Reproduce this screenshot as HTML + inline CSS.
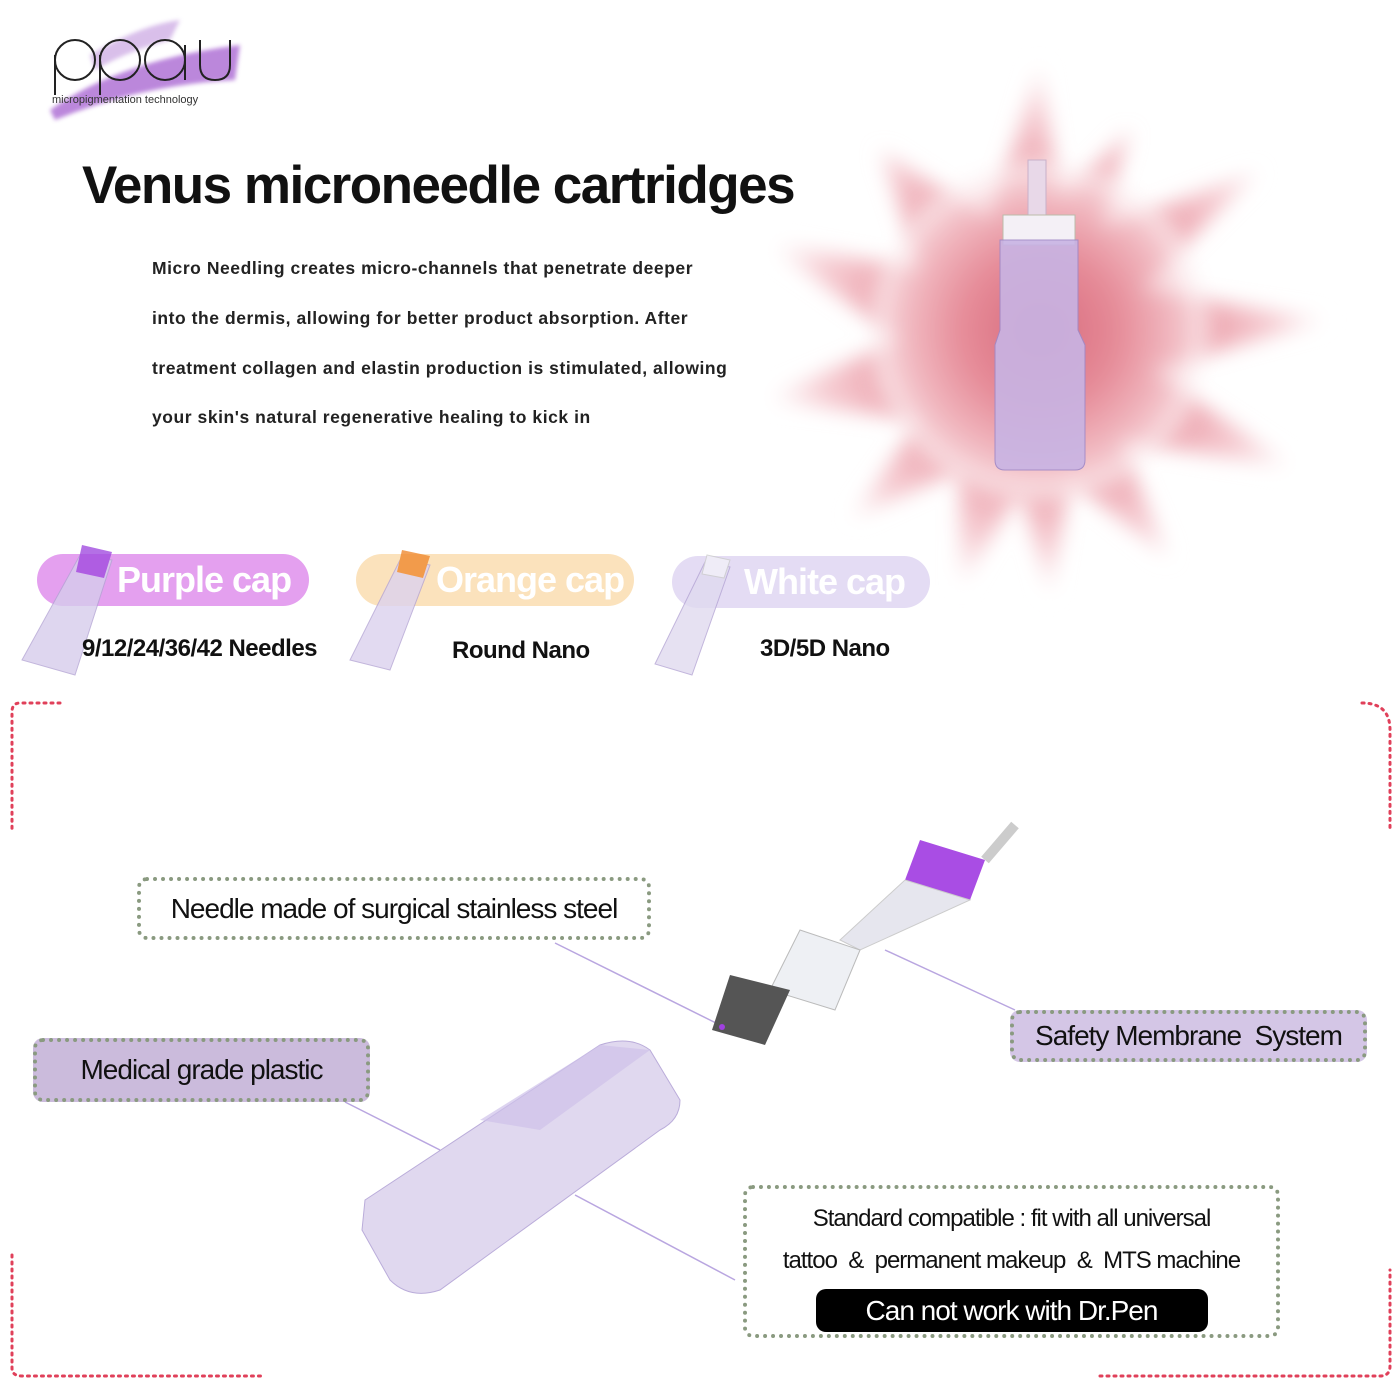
<!DOCTYPE html>
<html><head><meta charset="utf-8"><style>
body{margin:0;width:1400px;height:1390px;position:relative;background:#fff;overflow:hidden;font-family:"Liberation Sans",sans-serif}
.a{position:absolute}
.t{font-family:"Liberation Sans Narrow","Liberation Sans",sans-serif;letter-spacing:-0.5px}
.p{font-size:17.5px;color:#222;left:152px;letter-spacing:0.55px;font-weight:bold}
.box{position:absolute;border:4px dotted #8a9a80;border-radius:10px;box-sizing:border-box;display:flex;align-items:center;justify-content:center;color:#111;font-size:28px;letter-spacing:-1px}
.pill{position:absolute;border-radius:30px;color:#fff;font-size:36px;font-weight:bold;letter-spacing:-1px;display:flex;align-items:center}
</style></head><body>
<svg class="a" style="left:0;top:0" width="1400" height="1390">
<defs>
<radialGradient id="sp" cx="50%" cy="50%" r="50%"><stop offset="0" stop-color="#d86a7c"/><stop offset="0.45" stop-color="#e8909c"/><stop offset="0.8" stop-color="#f6cdd3"/><stop offset="1" stop-color="#fff"/></radialGradient>
<filter id="bl"><feGaussianBlur stdDeviation="10"/></filter>
<filter id="bl2"><feGaussianBlur stdDeviation="2"/></filter>
</defs>
<path d="M50 110 Q120 60 240 45 L235 80 Q140 85 55 120Z" fill="#a55fd0" opacity="0.75" filter="url(#bl2)"/>
<path d="M90 55 Q140 25 180 20 L170 40 Q130 50 95 70Z" fill="#c9a4e2" opacity="0.7" filter="url(#bl2)"/>
<g fill="none" stroke="#222" stroke-width="2">
<circle cx="75" cy="60" r="20"/><line x1="55" y1="55" x2="55" y2="95"/>
<circle cx="120" cy="60" r="20"/><line x1="100" y1="55" x2="100" y2="95"/>
<circle cx="165" cy="60" r="20"/><line x1="185" y1="45" x2="185" y2="80"/>
<path d="M200 40 V65 Q200 80 215 80 Q230 80 230 65 V40"/>
</g>
<text x="52" y="103" font-size="11" fill="#333" font-family="Liberation Sans">micropigmentation technology</text>
<polygon points="1040,60 1060,200 1130,130 1100,230 1260,170 1140,290 1330,320 1150,370 1300,470 1120,440 1170,560 1070,480 1050,600 1020,490 960,590 960,470 850,520 920,420 760,400 900,340 760,240 920,270 880,150 990,220" fill="url(#sp)" filter="url(#bl)"/>
<ellipse cx="1040" cy="330" rx="170" ry="170" fill="url(#sp)" opacity="0.7" filter="url(#bl)"/>
<rect x="1028" y="160" width="18" height="60" fill="#e8d8e8" stroke="#c9b0c9"/>
<rect x="1003" y="215" width="72" height="30" fill="#f4f0f6" stroke="#bba"/>
<path d="M1000 240 H1078 V330 L1085 345 V460 Q1085 470 1075 470 H1005 Q995 470 995 460 V345 L1000 330Z" fill="#c8b4e4" opacity="0.9" stroke="#9f88c7"/>
<g opacity="0.8">
<path d="M80 555 L112 560 L75 675 L22 660Z" fill="#d6ccec" stroke="#b4a4d4"/><path d="M82 545 L112 552 L104 578 L76 572Z" fill="#a24de0"/>
<path d="M400 560 L430 565 L390 670 L350 660Z" fill="#dcd2ee" stroke="#b4a4d4"/><path d="M402 550 L430 556 L423 578 L397 572Z" fill="#f08a30"/>
<path d="M705 562 L730 567 L692 675 L655 664Z" fill="#e0daf0" stroke="#b4a4d4"/><path d="M707 555 L730 560 L724 578 L702 574Z" fill="#f2f0f8" stroke="#ccc"/>
</g>
<g fill="none" stroke="#e0405a" stroke-width="3" stroke-dasharray="2 5" stroke-linecap="round">
<path d="M60 703 H20 Q12 703 12 712 V830"/>
<path d="M1362 703 Q1390 703 1390 730 V830"/>
<path d="M12 1255 V1368 Q12 1376 22 1376 H265"/>
<path d="M1100 1376 H1380 Q1390 1376 1390 1366 V1270"/>
</g>
<g stroke="#b9a6e0" stroke-width="1.5">
<line x1="555" y1="943" x2="720" y2="1025"/><line x1="885" y1="950" x2="1015" y2="1010"/>
<line x1="345" y1="1102" x2="440" y2="1150"/><line x1="575" y1="1195" x2="735" y2="1280"/>
</g>
<line x1="985" y1="860" x2="1015" y2="825" stroke="#ccc" stroke-width="10"/>
<path d="M920 840 L985 860 L970 900 L905 880Z" fill="#a94de4"/>
<path d="M905 880 L970 900 L860 950 L840 940Z" fill="#e6e6ee" stroke="#ccc"/>
<path d="M800 930 L860 950 L835 1010 L770 990Z" fill="#eef0f4" stroke="#bbb"/>
<path d="M730 975 L790 990 L765 1045 L712 1030Z" fill="#555" />
<circle cx="722" cy="1027" r="3" fill="#a040e0"/>
<path d="M365 1200 L600 1045 Q630 1035 650 1050 L680 1100 Q680 1120 660 1130 L440 1290 Q410 1300 390 1280 L362 1230Z" fill="#ddd4ee" stroke="#b3a4d6" opacity="0.9"/>
<path d="M480 1120 L600 1045 L650 1050 L540 1130Z" fill="#cfc2ea" opacity="0.7"/>
</svg>
<div class="a t" style="left:82px;top:155px;font-size:53px;font-weight:bold;color:#111;letter-spacing:-1.5px">Venus microneedle cartridges</div>
<div class="a p" style="top:258px">Micro Needling creates micro-channels that penetrate deeper</div>
<div class="a p" style="top:308px">into the dermis, allowing for better product absorption. After</div>
<div class="a p" style="top:358px">treatment collagen and elastin production is stimulated, allowing</div>
<div class="a p" style="top:407px">your skin's natural regenerative healing to kick in</div>
<div class="pill t" style="left:37px;top:554px;width:272px;height:52px;background:#e4a0ef;z-index:-1"><span style="margin-left:80px">Purple cap</span></div>
<div class="pill t" style="left:356px;top:554px;width:278px;height:52px;background:#fbe2bc;z-index:-1"><span style="margin-left:80px">Orange cap</span></div>
<div class="pill t" style="left:672px;top:556px;width:258px;height:52px;background:#e4dcf4;z-index:-1"><span style="margin-left:72px">White cap</span></div>
<div class="a t" style="left:82px;top:635px;font-size:24px;font-weight:bold;color:#111">9/12/24/36/42 Needles</div>
<div class="a t" style="left:452px;top:637px;font-size:24px;font-weight:bold;color:#111">Round Nano</div>
<div class="a t" style="left:760px;top:635px;font-size:24px;font-weight:bold;color:#111">3D/5D Nano</div>
<div class="box t" style="left:137px;top:877px;width:514px;height:63px;background:#fff">Needle made of surgical stainless steel</div>
<div class="box t" style="left:33px;top:1038px;width:337px;height:64px;background:#cbbbdc">Medical grade plastic</div>
<div class="box t" style="left:1010px;top:1010px;width:357px;height:52px;background:#d4c6e6">Safety Membrane&nbsp; System</div>
<div class="box t" style="left:743px;top:1185px;width:537px;height:153px;background:#fff;display:block;font-size:24px;text-align:center">
<div style="margin-top:16px">Standard compatible : fit with all universal</div>
<div style="margin-top:14px">tattoo&nbsp; &amp;&nbsp; permanent makeup&nbsp; &amp;&nbsp; MTS machine</div>
<div style="margin:14px auto 0;width:392px;height:43px;background:#000;color:#fff;border-radius:10px;font-size:28px;line-height:43px">Can not work with Dr.Pen</div>
</div>
</body></html>
